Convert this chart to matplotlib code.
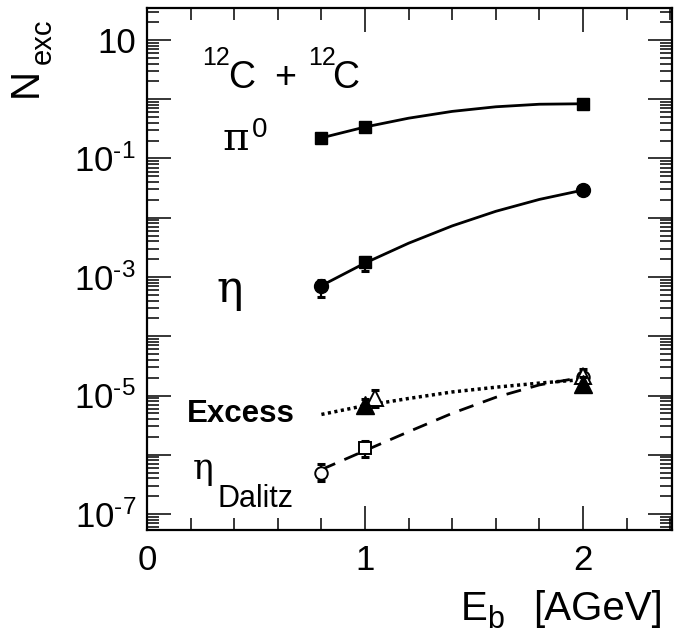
import matplotlib
matplotlib.use('Agg')
import matplotlib.pyplot as plt
from matplotlib.ticker import FixedLocator, LogLocator, MultipleLocator, NullFormatter

plt.rcParams['font.family'] = ['Liberation Sans', 'DejaVu Sans']
plt.rcParams['mathtext.fontset'] = 'custom'
plt.rcParams['mathtext.rm'] = 'Liberation Sans'
plt.rcParams['mathtext.it'] = 'Liberation Sans:italic'
plt.rcParams['mathtext.bf'] = 'Liberation Sans:bold'

# beam energies [AGeV]
energy = [0.8, 1.0, 2.0]

# pi0 multiplicity per event
n_pi0 = [0.223, 0.340, 0.839]

# eta multiplicity (asymmetric errors)
n_eta = [7.15e-4, 1.76e-3, 0.0293]
eta_err_lo = [2.6e-4, 0.5e-3, 0.0]
eta_err_hi = [1.8e-4, 0.4e-3, 0.0]
eta_markers = ['o', 's', 'o']

# eta Dalitz contribution
n_dalitz = [5.0e-7, 1.29e-6, 2.05e-5]
dalitz_err_lo = [1.4e-7, 0.38e-6, 0.0]
dalitz_err_hi = [1.9e-7, 0.42e-6, 0.0]
dalitz_markers = ['o', 's', 'o']

# pair excess, full symbols
energy_excess = [1.0, 2.0]
n_excess = [6.8e-6, 1.58e-5]
excess_err_lo = [1.8e-6, 0.41e-5]
excess_err_hi = [1.8e-6, 0.5e-5]

# pair excess, open symbols
energy_excess_open = [1.045, 2.0]
n_excess_open = [8.9e-6, 2.1e-5]
excess_open_err_lo = [2.6e-6, 0.5e-5]
excess_open_err_hi = [3.7e-6, 0.7e-5]

# energy dependence curves
curve_energy = [0.8, 1.0, 1.2, 1.4, 1.6, 1.8, 2.0]
curve_pi0 = [0.223, 0.340, 0.479, 0.624, 0.746, 0.824, 0.839]
curve_eta = [7.14e-4, 1.72e-3, 3.72e-3, 7.29e-3, 1.285e-2, 2.04e-2, 2.93e-2]
curve_excess = [4.79e-6, 6.76e-6, 8.91e-6, 1.148e-5, 1.38e-5, 1.62e-5, 1.86e-5]
curve_dalitz = [5.62e-7, 1.175e-6, 2.45e-6, 5.01e-6, 9.33e-6, 1.51e-5, 2.04e-5]

W, H = 675, 635
fig = plt.figure(figsize=(W / 100, H / 100), dpi=100)
ax = fig.add_axes([147 / W, 1 - 530 / H, 525 / W, 522 / H])
ax.set_yscale('log')
ax.set_xlim(0, 2.408)
ax.set_ylim(10 ** -7.27, 10 ** 1.54)

# curves
ax.plot(curve_energy, curve_pi0, color='black', lw=2.0, zorder=2)
ax.plot(curve_energy, curve_eta, color='black', lw=2.0, zorder=2)
ax.plot(curve_energy, curve_excess, color='black', lw=2.5,
        linestyle=(0, (0.9, 1.0)), zorder=2)
ax.plot(curve_energy, curve_dalitz, color='black', lw=2.0,
        linestyle=(0, (5.4, 3.6)), zorder=2)

err_kw = dict(ecolor='black', elinewidth=1.6, capsize=3.2, capthick=2.2, ls='none')

# pi0
ax.plot(energy, n_pi0, 's', ms=9, color='black', zorder=4)

# eta (circles and square)
for x, y, lo, hi, m in zip(energy, n_eta, eta_err_lo, eta_err_hi, eta_markers):
    if lo > 0:
        ax.errorbar([x], [y], yerr=[[lo], [hi]], zorder=3, **err_kw)
    ax.plot([x], [y], m, ms=10 if m == 'o' else 9, color='black', zorder=4)

# eta Dalitz (open symbols)
for x, y, lo, hi, m in zip(energy, n_dalitz, dalitz_err_lo, dalitz_err_hi, dalitz_markers):
    if lo > 0:
        ax.errorbar([x], [y], yerr=[[lo], [hi]], zorder=3, **err_kw)
    ax.plot([x], [y], m, ms=9, mfc='white', mec='black', mew=1.4, zorder=4)

# excess: open triangles below, full triangles above
ax.errorbar(energy_excess_open, n_excess_open,
            yerr=[excess_open_err_lo, excess_open_err_hi], zorder=5, **err_kw)
ax.plot(energy_excess_open, n_excess_open, '^', ms=12, mfc='white',
        mec='black', mew=1.4, ls='none', zorder=5)
ax.errorbar(energy_excess, n_excess,
            yerr=[excess_err_lo, excess_err_hi], zorder=6, **err_kw)
ax.plot(energy_excess, n_excess, '^', ms=13, color='black', ls='none', zorder=6)

# axes ticks
ax.xaxis.set_major_locator(FixedLocator([0, 1, 2]))
ax.xaxis.set_minor_locator(MultipleLocator(0.2))
ax.set_xticklabels(['0', '1', '2'])
major_y = [10.0 ** k for k in range(-8, 3)]
ax.yaxis.set_major_locator(FixedLocator(major_y))
ax.yaxis.set_minor_locator(LogLocator(base=10, subs=range(2, 10), numticks=30))
ax.yaxis.set_minor_formatter(NullFormatter())
labels_y = {1: '10', -1: r'$\mathregular{10^{\text{-}1}}$', -3: r'$\mathregular{10^{\text{-}3}}$',
            -5: r'$\mathregular{10^{\text{-}5}}$', -7: r'$\mathregular{10^{\text{-}7}}$'}
ax.set_yticklabels([labels_y.get(k, '') for k in range(-8, 3)])

ax.tick_params(which='both', direction='in', top=True, right=True, width=1.1, color='black')
ax.tick_params(which='major', length=17)
ax.tick_params(which='minor', length=8.5)
ax.tick_params(axis='y', which='major', labelsize=25, pad=8)
ax.tick_params(axis='x', which='major', labelsize=25, pad=10)
for sp in ax.spines.values():
    sp.set_linewidth(1.6)


def put(xp, yp, s, **kw):
    fig.text(xp / W, 1 - yp / H, s, ha='left', va='baseline', **kw)


# axis titles
put(461, 620, 'E', fontsize=29)
put(487, 628, 'b', fontsize=22)
put(533, 620, '[AGeV]', fontsize=29)
fig.text(45 / W, 1 - 97 / H, 'N', rotation=90, fontsize=29, ha='right', va='bottom')
fig.text(57 / W, 1 - 64 / H, 'exc', rotation=90, fontsize=21, ha='right', va='bottom')

# reaction label
put(202, 65, '12', fontsize=18)
put(228, 88, 'C', fontsize=27)
put(274, 88, '+', fontsize=27)
put(308, 65, '12', fontsize=18)
put(332, 88, 'C', fontsize=27)

# particle labels
serif = ['DejaVu Serif']
put(222, 150, 'π', fontsize=29, family=serif)
put(252, 137, '0', fontsize=20)
put(216, 302, 'η', fontsize=32, family=serif)
put(187, 422, 'Excess', fontsize=22.5, fontweight='bold')
put(193, 479, 'η', fontsize=25, family=serif)
put(218, 507, 'Dalitz', fontsize=22)

fig.savefig('out.png', dpi=100)
